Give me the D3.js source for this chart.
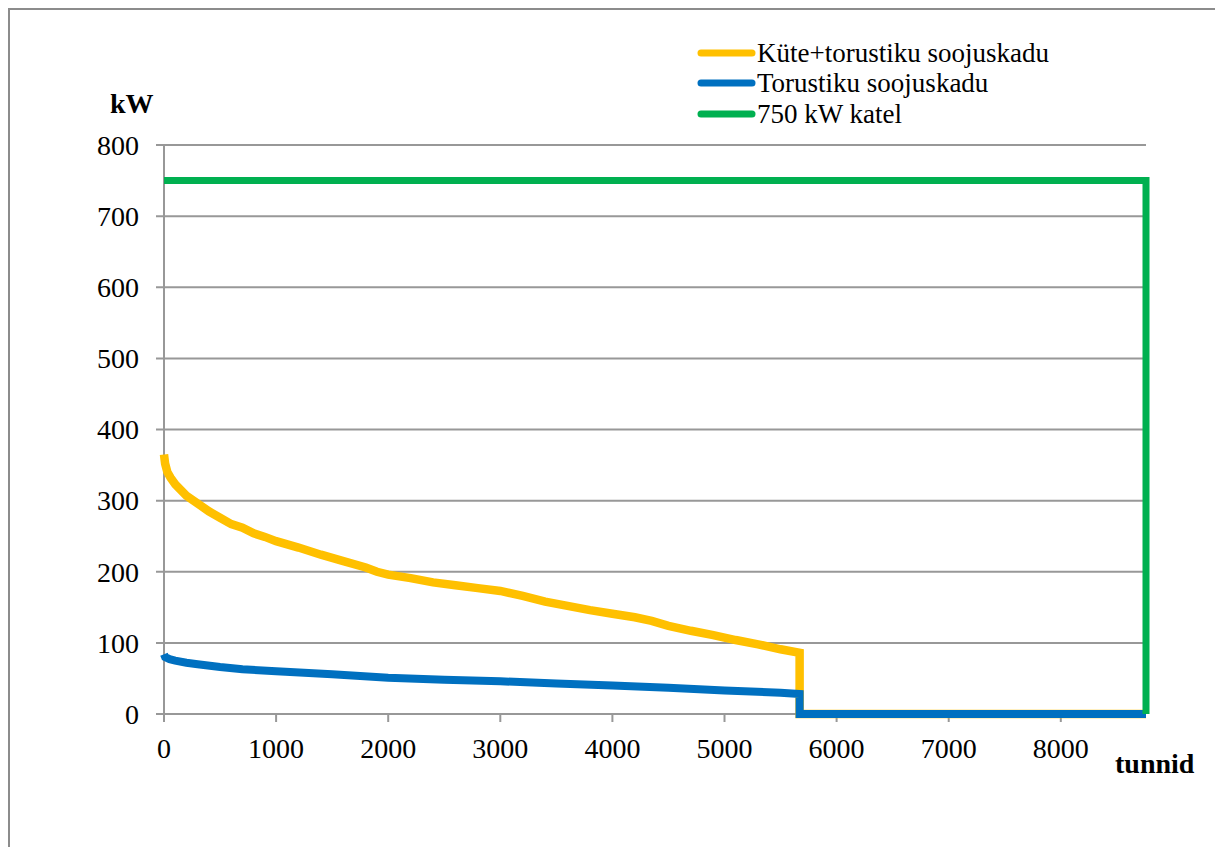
<!DOCTYPE html>
<html>
<head>
<meta charset="utf-8">
<script src="https://cdn.jsdelivr.net/npm/d3@7"></script>
<style>
  html, body { margin: 0; padding: 0; background: #fff; }
  svg { display: block; }
  text { font-family: "Liberation Serif", "Times New Roman", serif; fill: #000; }
</style>
</head>
<body>
<svg id="chart" width="1215" height="847"></svg>
<script>
// Load duration curves (hours of the year sorted by load)
const heatHours = [0, 10, 30, 60, 100, 150, 200, 300, 400, 500, 600, 700, 800, 900, 1000, 1200, 1400, 1600, 1800, 1900, 2000, 2200, 2400, 2600, 2800, 3000, 3200, 3400, 3600, 3800, 4000, 4200, 4350, 4500, 4700, 4900, 5100, 5300, 5500, 5670, 5670, 8760];
const heatLoad  = [365, 352, 340, 332, 323, 315, 307, 296, 285, 276, 267, 262, 254, 249, 243, 234, 224, 215, 206, 200, 196, 191, 185, 181, 177, 173, 166, 158, 152, 146, 141, 136, 131, 124, 117, 111, 104, 98, 91, 86, 0, 0];

const pipeHours = [0, 10, 50, 100, 200, 300, 500, 700, 1000, 1500, 2000, 2500, 3000, 3500, 4000, 4500, 5000, 5500, 5670, 5670, 8760];
const pipeLoss  = [84, 80, 77, 75, 72, 70, 66, 63, 60, 56, 51, 48, 46, 43, 40, 37, 33, 30, 28, 0, 0];

const boilerHours = [0, 8760, 8760];
const boilerLoad  = [750, 750, 0];

const seriesNames = ["Küte+torustiku soojuskadu", "Torustiku soojuskadu", "750 kW katel"];
const seriesColors = ["#FFC000", "#0070C0", "#00B050"];

const xTicks = [0, 1000, 2000, 3000, 4000, 5000, 6000, 7000, 8000];
const yTicks = [0, 100, 200, 300, 400, 500, 600, 700, 800];

const yLabel = "kW";
const xLabel = "tunnid";

const svg = d3.select("#chart");
const W = 1215, H = 847;
const plot = { left: 164, right: 1146, top: 145, bottom: 714 };
const gridColor = "#989898";

// outer frame
svg.append("rect")
  .attr("x", 9).attr("y", 9)
  .attr("width", W + 20).attr("height", H + 20)
  .attr("fill", "none").attr("stroke", "#8c8c8c").attr("stroke-width", 2);

const x = d3.scaleLinear().domain([0, 8760]).range([plot.left, plot.right]);
const y = d3.scaleLinear().domain([0, 800]).range([plot.bottom, plot.top]);

// horizontal gridlines
svg.append("g").selectAll("line").data(yTicks).join("line")
  .attr("x1", plot.left - 8).attr("x2", plot.right)
  .attr("y1", d => y(d)).attr("y2", d => y(d))
  .attr("stroke", gridColor).attr("stroke-width", 2);

// y axis line
svg.append("line")
  .attr("x1", plot.left).attr("x2", plot.left)
  .attr("y1", plot.top).attr("y2", plot.bottom + 8)
  .attr("stroke", gridColor).attr("stroke-width", 2);

// x tick marks
svg.append("g").selectAll("line").data(xTicks).join("line")
  .attr("x1", d => x(d)).attr("x2", d => x(d))
  .attr("y1", plot.bottom).attr("y2", plot.bottom + 8)
  .attr("stroke", gridColor).attr("stroke-width", 2);

// y tick labels
svg.append("g").selectAll("text").data(yTicks).join("text")
  .attr("x", 139).attr("y", d => y(d))
  .attr("dy", "0.35em")
  .attr("text-anchor", "end")
  .attr("font-size", 28)
  .text(d => d);

// x tick labels
svg.append("g").selectAll("text").data(xTicks).join("text")
  .attr("x", d => x(d)).attr("y", 758)
  .attr("text-anchor", "middle")
  .attr("font-size", 28)
  .text(d => d);

// axis titles
svg.append("text").attr("x", 110).attr("y", 113)
  .attr("font-size", 28).attr("font-weight", "bold").text(yLabel);
svg.append("text").attr("x", 1115).attr("y", 773)
  .attr("font-size", 28).attr("font-weight", "bold").text(xLabel);

// series lines
const line = d3.line().x(d => x(d[0])).y(d => y(d[1]));
const series = [
  d3.zip(heatHours, heatLoad),
  d3.zip(pipeHours, pipeLoss),
  d3.zip(boilerHours, boilerLoad)
];
const widths = [8.5, 8, 7];
series.forEach((pts, i) => {
  svg.append("path")
    .datum(pts)
    .attr("d", line)
    .attr("fill", "none")
    .attr("stroke", seriesColors[i])
    .attr("stroke-width", widths[i])
    .attr("stroke-linejoin", "miter")
    .attr("stroke-linecap", "butt");
});

// legend
const legend = svg.append("g");
const legendY = [53, 83, 114];
seriesNames.forEach((name, i) => {
  legend.append("line")
    .attr("x1", 701).attr("x2", 752)
    .attr("y1", legendY[i]).attr("y2", legendY[i])
    .attr("stroke", seriesColors[i]).attr("stroke-width", 7)
    .attr("stroke-linecap", "round");
  legend.append("text")
    .attr("x", 757).attr("y", legendY[i] + 9)
    .attr("font-size", 27)
    .text(name);
});
</script>
</body>
</html>
